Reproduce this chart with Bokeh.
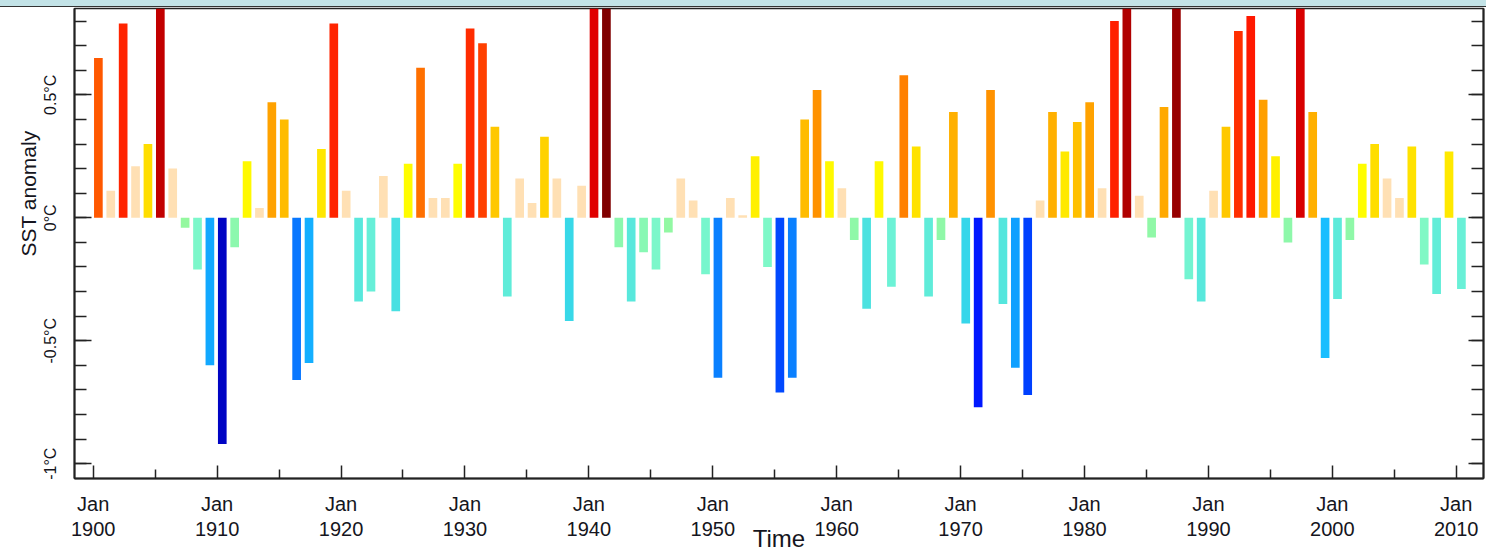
import numpy as np
from bokeh.plotting import figure
from bokeh.models import (ColumnDataSource, Range1d, LinearAxis, FixedTicker, Title,
                          GlobalInlineStyleSheet)
from bokeh.embed import file_html
from bokeh.resources import INLINE

# ---------------- data ----------------
years = list(range(1900, 2011))
anomaly = [
    0.65, 0.11, 0.79, 0.21, 0.30, 1.00, 0.20, -0.04, -0.21, -0.60,   # 1900-1909
    -0.92, -0.12, 0.23, 0.04, 0.47, 0.40, -0.66, -0.59, 0.28, 0.79,  # 1910-1919
    0.11, -0.34, -0.30, 0.17, -0.38, 0.22, 0.61, 0.08, 0.08, 0.22,   # 1920-1929
    0.77, 0.71, 0.37, -0.32, 0.16, 0.06, 0.33, 0.16, -0.42, 0.13,    # 1930-1939
    0.92, 1.30, -0.12, -0.34, -0.14, -0.21, -0.06, 0.16, 0.07, -0.23, # 1940-1949
    -0.65, 0.08, 0.01, 0.25, -0.20, -0.71, -0.65, 0.40, 0.52, 0.23,  # 1950-1959
    0.12, -0.09, -0.37, 0.23, -0.28, 0.58, 0.29, -0.32, -0.09, 0.43, # 1960-1969
    -0.43, -0.77, 0.52, -0.35, -0.61, -0.72, 0.07, 0.43, 0.27, 0.39, # 1970-1979
    0.47, 0.12, 0.80, 1.10, 0.09, -0.08, 0.45, 1.20, -0.25, -0.34,   # 1980-1989
    0.11, 0.37, 0.76, 0.82, 0.48, 0.25, -0.10, 0.95, 0.43, -0.57,    # 1990-1999
    -0.33, -0.09, 0.22, 0.30, 0.16, 0.08, 0.29, -0.19, -0.31, 0.27,  # 2000-2009
    -0.29,                                                           # 2010
]
x_tick_years = [1900, 1910, 1920, 1930, 1940, 1950, 1960, 1970, 1980, 1990, 2000, 2010]
x_tick_labels = ["Jan\n%d" % y for y in x_tick_years]
x_minor_years = [1905, 1915, 1925, 1935, 1945, 1955, 1965, 1975, 1985, 1995, 2005]
y_tick_values = [-1, -0.5, 0, 0.5]
y_tick_labels = ["-1°C", "-0.5°C", "0°C", "0.5°C"]
y_minor_values = [round(-1.0 + 0.1 * i, 1) for i in range(19)]

# ---------------- colour scale (value -> colour) ----------------
NEG_STOPS = [(-0.95, "#0000b8"), (-0.77, "#0018ff"), (-0.715, "#0044ff"), (-0.65, "#0a80ff"),
             (-0.60, "#12a8ff"), (-0.57, "#18beff"), (-0.42, "#38d8e8"), (-0.37, "#4ce2e0"),
             (-0.33, "#5ceada"), (-0.28, "#6cf2d6"), (-0.20, "#7ef8c8"), (-0.12, "#8cf8ae"),
             (0.0, "#98f898")]
POS_STOPS = [(0.0, "#ffe0b4"), (0.211, "#ffe0b4"), (0.215, "#ffff00"), (0.25, "#fff000"),
             (0.29, "#ffe200"), (0.33, "#ffd200"), (0.37, "#ffc800"), (0.40, "#ffbc00"),
             (0.43, "#ffb000"), (0.47, "#ffa200"), (0.52, "#ff9200"), (0.58, "#ff8000"),
             (0.61, "#ff7000"), (0.65, "#ff5800"), (0.71, "#ff4000"), (0.77, "#ff2c00"),
             (0.80, "#ff2000"), (0.82, "#ff1800"), (0.92, "#e00000"), (0.95, "#d80000"),
             (1.0, "#c20000"), (1.1, "#b00000"), (1.2, "#980000"), (1.3, "#800000")]


def interp_colour(v, stops):
    vals = [s[0] for s in stops]
    rgb = np.array([[int(h[i:i + 2], 16) for i in (1, 3, 5)] for _, h in stops], dtype=float)
    out = [int(round(np.interp(v, vals, rgb[:, k]))) for k in range(3)]
    return "#%02x%02x%02x" % tuple(out)


def colour(v):
    return interp_colour(v, POS_STOPS if v >= 0 else NEG_STOPS)


src = ColumnDataSource(dict(
    x=[y + 5 / 12 for y in years],
    top=anomaly,
    color=[colour(v) for v in anomaly],
))

FONT = "Liberation Sans"
TXT = "#151520"
AX = "#222222"

p = figure(width=1486, height=556, output_backend="svg", toolbar_location=None,
           x_range=Range1d(1898.49, 2012.2), y_range=Range1d(-1.06, 0.851),
           x_axis_location=None, y_axis_location=None,
           min_border_left=74, min_border_right=3, min_border_top=8, min_border_bottom=78)
p.grid.visible = False
p.outline_line_color = AX
p.outline_line_width = 1.5
p.background_fill_color = "white"
p.border_fill_color = None

p.vbar(x="x", top="top", bottom=0, width=0.70, fill_color="color", line_color=None, source=src)

# left axis
yl = LinearAxis(ticker=FixedTicker(ticks=y_tick_values, minor_ticks=y_minor_values),
                major_label_overrides=dict(zip(y_tick_values, y_tick_labels)),
                major_tick_in=17, major_tick_out=0, minor_tick_in=12, minor_tick_out=0,
                major_label_orientation="parallel", major_label_standoff=15,
                major_label_text_font=FONT, major_label_text_font_size="16px",
                major_label_text_color=TXT,
                axis_line_color=AX, axis_line_width=2,
                major_tick_line_color=AX, major_tick_line_width=1.5,
                minor_tick_line_color=AX, minor_tick_line_width=1.5)
p.add_layout(yl, "left")

# right axis (ticks only)
yr = LinearAxis(ticker=FixedTicker(ticks=y_tick_values, minor_ticks=y_minor_values),
                major_label_overrides={v: "" for v in y_tick_values},
                major_tick_in=15, major_tick_out=0, minor_tick_in=12, minor_tick_out=0,
                major_label_standoff=0,
                axis_line_color=AX, axis_line_width=2,
                major_tick_line_color=AX, major_tick_line_width=1.5,
                minor_tick_line_color=AX, minor_tick_line_width=1.5)
p.add_layout(yr, "right")

# bottom axis
xb = LinearAxis(ticker=FixedTicker(ticks=x_tick_years, minor_ticks=x_minor_years),
                major_label_overrides=dict(zip(x_tick_years, x_tick_labels)),
                major_tick_in=13, major_tick_out=0, minor_tick_in=9, minor_tick_out=0,
                major_label_standoff=14,
                major_label_text_font=FONT, major_label_text_font_size="20px",
                major_label_text_color=TXT, major_label_text_line_height=1.15,
                axis_label="Time", axis_label_standoff=-18,
                axis_label_text_font=FONT, axis_label_text_font_size="24px",
                axis_label_text_font_style="normal", axis_label_text_color=TXT,
                axis_line_color=AX, axis_line_width=2,
                major_tick_line_color=AX, major_tick_line_width=1.5,
                minor_tick_line_color=AX, minor_tick_line_width=1.5)
p.add_layout(xb, "below")

p.add_layout(Title(text="SST anomaly", align="left", offset=222, standoff=0,
                   text_font=FONT, text_font_size="21px", text_font_style="normal",
                   text_color=TXT), "left")

p.stylesheets = [GlobalInlineStyleSheet(css=(
    "html,body{margin:0 !important;padding:0 !important;overflow:hidden;}"
    "html{background:#ffffff linear-gradient(to bottom,#c3e3e7 0px,#c3e3e7 6px,"
    "#333333 6px,#333333 7px,#ffffff 7px) no-repeat;}"
    "body{background:transparent;}"))]

open("out.html", "w").write(file_html(p, INLINE))
